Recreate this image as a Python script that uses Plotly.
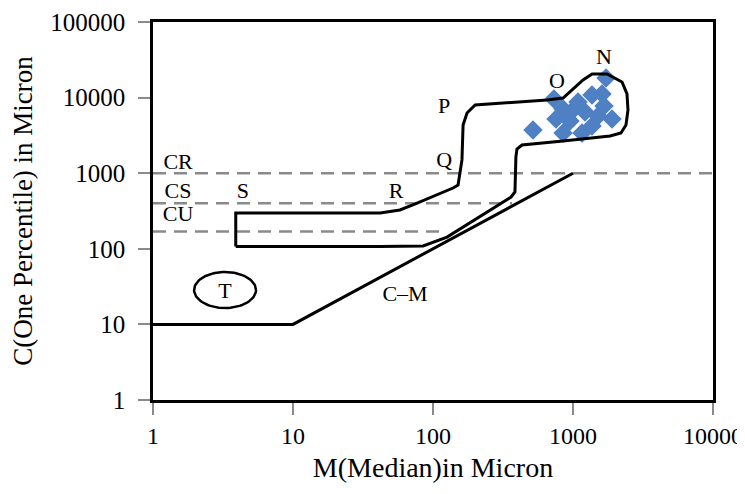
import numpy as np
import plotly.graph_objects as go

# Outline of the N-O-P-Q-R-S field (M, C in microns)
outline_m = [3.9, 3.9, 42, 58, 74, 139, 151, 161, 164, 175, 200, 652, 849, 1180, 1370,
             1750, 2240, 2430, 2470, 2390, 2200, 1840, 849, 432, 398, 391, 385, 361,
             126, 85, 42, 3.9]
outline_c = [107, 298, 298, 326, 391, 637, 698, 1500, 4340, 6260, 7980, 9300, 9880, 17100,
             20500, 20500, 16100, 11200, 6850, 4340, 3400, 3100, 2670, 2360, 2090, 1640,
             564, 484, 143, 109, 107, 107]

# C = M line with lower limit
cm_m = [1, 10, 1000]
cm_c = [10, 10, 1000]

# Sample points
sample_m = [518, 731, 849, 1086, 1367, 1611, 1721, 1665, 1509, 1367, 1159, 849, 952, 756, 1218, 1016, 1900]
sample_c = [3727, 9580, 7063, 8750, 10820, 11160, 18160, 7745, 5710, 4210, 3400, 3400, 4900, 5210, 6450, 7063, 5210]

# Dashed limit lines (CR, CS, CU)
limit_names = ["CR", "CS", "CU"]
limit_values = [1000, 400, 170]
limit_ends = [10000, 367, 126]

# Field labels
label_text = ["CR", "CS", "CU", "S", "R", "Q", "P", "O", "N", "T", "C\u2013M"]
label_m = [1.51, 1.51, 1.51, 4.39, 54.4, 120, 120, 769, 1665, 3.27, 63.1]
label_c = [1364, 564, 272, 564, 564, 1407, 7510, 16070, 33400, 26.8, 23.8]

# T field ellipse (centre and radii in decades)
t_center = (3.27, 28.5)
t_radius = (0.221, 0.238)

fig = go.Figure()

for v, e in zip(limit_values, limit_ends):
    fig.add_trace(go.Scatter(x=[1, e], y=[v, v], mode="lines",
                             line=dict(color="#8a8a8a", width=2.5, dash="13px,8px"),
                             hoverinfo="skip", showlegend=False))

fig.add_trace(go.Scatter(x=cm_m, y=cm_c, mode="lines",
                         line=dict(color="black", width=3), showlegend=False))

fig.add_trace(go.Scatter(x=sample_m, y=sample_c, mode="markers",
                         marker=dict(symbol="diamond", size=15, color="#4f80c4"),
                         showlegend=False))

fig.add_trace(go.Scatter(x=outline_m, y=outline_c, mode="lines",
                         line=dict(color="black", width=3),
                         showlegend=False))

t = np.linspace(0, 2 * np.pi, 100)
ex = 10 ** (np.log10(t_center[0]) + t_radius[0] * np.cos(t))
ey = 10 ** (np.log10(t_center[1]) + t_radius[1] * np.sin(t))
fig.add_trace(go.Scatter(x=ex, y=ey, mode="lines",
                         line=dict(color="black", width=2.5), showlegend=False))

fig.add_trace(go.Scatter(x=label_m, y=label_c, mode="text", text=label_text,
                         textfont=dict(family="Liberation Serif", size=22, color="black"),
                         textposition="middle center", showlegend=False))

font = "Liberation Serif"
fig.update_layout(
    width=745, height=494,
    margin=dict(l=145, r=40, t=14, b=102),
    paper_bgcolor="white", plot_bgcolor="white",
    font=dict(family=font, color="black", size=24),
    xaxis=dict(type="log", range=[0, 4], tickvals=[1, 10, 100, 1000, 10000],
               ticktext=["1", "10", "100", "1000", "10000"],
               showgrid=False, zeroline=False, showline=True, linecolor="black",
               linewidth=2.5, mirror=True, ticks="outside", ticklen=12, tickwidth=2,
               tickcolor="#8a8a8a", tickfont=dict(size=24, family=font),
               title=dict(text="M(Median)in Micron", font=dict(size=28, family=font), standoff=10),
               automargin=False),
    yaxis=dict(type="log", range=[0, 5], tickvals=[1, 10, 100, 1000, 10000, 100000],
               ticktext=["1", "10", "100", "1000", "10000", "100000"],
               showgrid=False, zeroline=False, showline=True, linecolor="black",
               linewidth=2.5, mirror=True, ticks="outside", ticklen=12, tickwidth=2,
               tickcolor="#8a8a8a", tickfont=dict(size=25, family=font), ticklabelstandoff=8,
               title=dict(text="C(One Percentile) in Micron", font=dict(size=27, family=font), standoff=14),
               automargin=False),
)

fig.write_html("out.html")
